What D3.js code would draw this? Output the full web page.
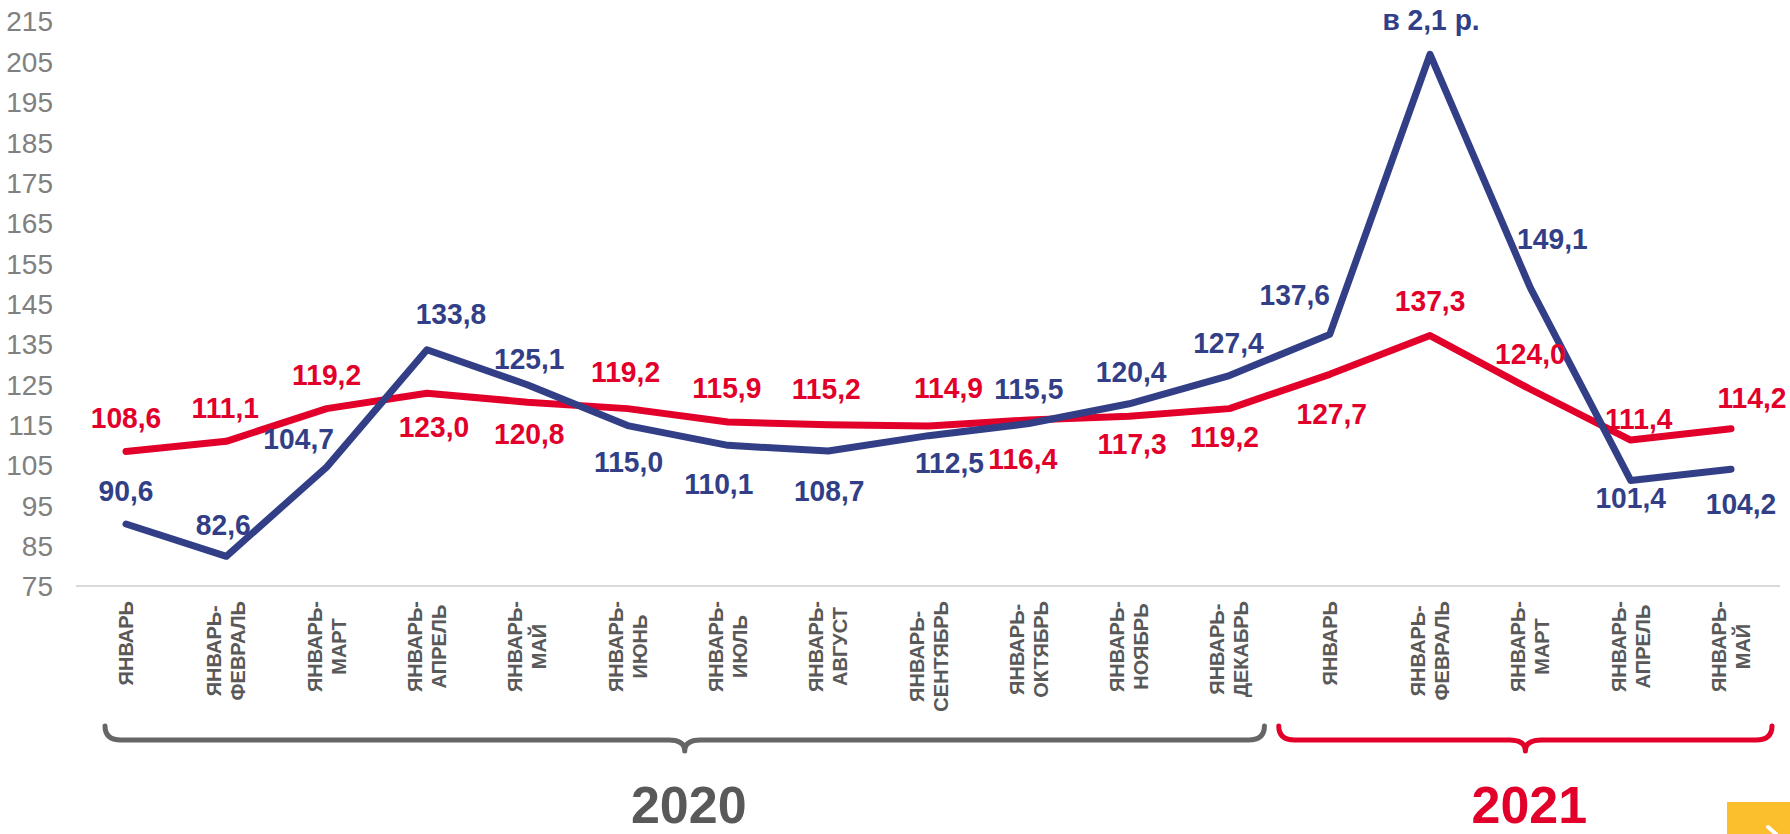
<!DOCTYPE html>
<html>
<head>
<meta charset="utf-8">
<script src="https://cdn.jsdelivr.net/npm/d3@7"></script>
<style>
  html, body { margin: 0; padding: 0; background: #fff; }
  svg { display: block; }
</style>
</head>
<body>
<svg id="chart" width="1790" height="834"></svg>
<script>
// ---------- DATA ----------
const categories = [
  "ЯНВАРЬ", "ЯНВАРЬ-ФЕВРАЛЬ", "ЯНВАРЬ-МАРТ", "ЯНВАРЬ-АПРЕЛЬ", "ЯНВАРЬ-МАЙ",
  "ЯНВАРЬ-ИЮНЬ", "ЯНВАРЬ-ИЮЛЬ", "ЯНВАРЬ-АВГУСТ", "ЯНВАРЬ-СЕНТЯБРЬ", "ЯНВАРЬ-ОКТЯБРЬ",
  "ЯНВАРЬ-НОЯБРЬ", "ЯНВАРЬ-ДЕКАБРЬ",
  "ЯНВАРЬ", "ЯНВАРЬ-ФЕВРАЛЬ", "ЯНВАРЬ-МАРТ", "ЯНВАРЬ-АПРЕЛЬ", "ЯНВАРЬ-МАЙ"
];
const blueValues = [90.6, 82.6, 104.7, 133.8, 125.1, 115.0, 110.1, 108.7, 112.5, 115.5, 120.4, 127.4, 137.6, 207.0, 149.1, 101.4, 104.2];
const blueLabels = ["90,6", "82,6", "104,7", "133,8", "125,1", "115,0", "110,1", "108,7", "112,5", "115,5", "120,4", "127,4", "137,6", "в 2,1 р.", "149,1", "101,4", "104,2"];
const redValues = [108.6, 111.1, 119.2, 123.0, 120.8, 119.2, 115.9, 115.2, 114.9, 116.4, 117.3, 119.2, 127.7, 137.3, 124.0, 111.4, 114.2];
const redLabels = ["108,6", "111,1", "119,2", "123,0", "120,8", "119,2", "115,9", "115,2", "114,9", "116,4", "117,3", "119,2", "127,7", "137,3", "124,0", "111,4", "114,2"];
const yTicks = [75, 85, 95, 105, 115, 125, 135, 145, 155, 165, 175, 185, 195, 205, 215];
const years = [
  { label: "2020", from: 0, to: 11 },
  { label: "2021", from: 12, to: 16 }
];

// ---------- LAYOUT (label offsets relative to points) ----------
const blueOffsets = [[0,-34],[-3,-32],[-28,-29],[24,-37],[2,-27],[1,36],[-9,38],[1,39],[21,27],[0,-35],[2,-33],[-1,-33],[-35,-40],[1,-35],[22,-50],[0,17],[10,34]];
const redOffsets  = [[0,-34],[-1,-34],[0,-34],[7,33],[2,31],[-2,-37],[-1,-35],[-2,-37],[20,-39],[-6,38],[3,27],[-5,28],[2,39],[0,-35],[0,-36],[8,-22],[21,-32]];

const BLUE = "#323F87";
const RED = "#E2002B";
const GRAY_TXT = "#595959";

const svg = d3.select("#chart");

const x = d3.scalePoint().domain(d3.range(categories.length)).range([126, 1731]);
const y = d3.scaleLinear().domain([75, 215]).range([587, 22]);

// y tick labels
const yAxis = d3.axisLeft(y).tickValues(yTicks).tickSize(0).tickPadding(0).tickFormat(d3.format("d"));
const gy = svg.append("g").attr("transform", "translate(53,0)").call(yAxis);
gy.select(".domain").remove();
gy.selectAll("text")
  .attr("fill", "#808080")
  .style("font-family", "'Liberation Sans Narrow', 'Arial Narrow', 'Liberation Sans', Arial, sans-serif")
  .style("font-size", "28px");

// x axis baseline
svg.append("line")
  .attr("x1", 76).attr("x2", 1780)
  .attr("y1", y(75) - 1).attr("y2", y(75) - 1)
  .attr("stroke", "#D9D9D9").attr("stroke-width", 2);

// category labels (rotated, centered lines, top aligned)
const catG = svg.append("g");
categories.forEach((c, i) => {
  const parts = c.includes("-") ? [c.slice(0, c.indexOf("-") + 1), c.slice(c.indexOf("-") + 1)] : [c];
  const g = catG.append("g").attr("transform", `translate(${x(i)},601) rotate(-90)`);
  const texts = parts.map((p, k) => g.append("text")
    .text(p)
    .attr("fill", GRAY_TXT)
    .style("font-family", "'Liberation Sans', Arial, sans-serif")
    .style("font-weight", "bold")
    .style("font-size", "20px")
    .attr("text-anchor", "middle")
    .attr("y", parts.length === 1 ? 7 : (k === 0 ? -5 : 19)));
  const maxLen = d3.max(texts, t => t.node().getComputedTextLength());
  texts.forEach(t => t.attr("x", -maxLen / 2));
});

// lines
const line = d3.line().x((d, i) => x(i)).y(d => y(d));
svg.append("path").datum(redValues)
  .attr("d", line).attr("fill", "none").attr("stroke", RED)
  .attr("stroke-width", 7).attr("stroke-linejoin", "round").attr("stroke-linecap", "round");
svg.append("path").datum(blueValues)
  .attr("d", line).attr("fill", "none").attr("stroke", BLUE)
  .attr("stroke-width", 7).attr("stroke-linejoin", "round").attr("stroke-linecap", "round");

// data labels
function addLabels(vals, labels, offs, color) {
  svg.append("g").selectAll("text").data(vals).join("text")
    .attr("transform", (d, i) => `translate(${x(i) + offs[i][0]},${y(d) + offs[i][1]}) scale(0.94,1)`)
    .attr("dy", "0.36em")
    .attr("text-anchor", "middle")
    .attr("fill", color)
    .style("font-family", "'Liberation Sans', Arial, sans-serif")
    .style("font-weight", "bold")
    .style("font-size", "30px")
    .text((d, i) => labels[i]);
}
addLabels(redValues, redLabels, redOffsets, RED);
addLabels(blueValues, blueLabels, blueOffsets, BLUE);

// braces
function brace(x1, x2, yTop, yLine, yTip, r) {
  const cx = (x1 + x2) / 2;
  return `M${x1},${yTop} Q${x1},${yLine} ${x1 + r},${yLine} L${cx - r},${yLine} Q${cx},${yLine} ${cx},${yTip} ` +
         `Q${cx},${yLine} ${cx + r},${yLine} L${x2 - r},${yLine} Q${x2},${yLine} ${x2},${yTop}`;
}
const braceSpecs = [
  { x1: x(years[0].from) - 21, x2: x(years[0].to) + 35, color: "#666666", textColor: "#595959" },
  { x1: x(years[1].from) - 51, x2: x(years[1].to) + 41, color: RED, textColor: RED }
];
braceSpecs.forEach((b, i) => {
  svg.append("path")
    .attr("d", brace(b.x1, b.x2, 726, 740, 751, 16))
    .attr("fill", "none").attr("stroke", b.color).attr("stroke-width", 5)
    .attr("stroke-linecap", "round").attr("stroke-linejoin", "round");
  svg.append("text")
    .attr("x", (b.x1 + b.x2) / 2 + 4)
    .attr("y", 804).attr("dy", "0.36em")
    .attr("text-anchor", "middle")
    .attr("fill", b.textColor)
    .style("font-family", "'Liberation Sans', Arial, sans-serif")
    .style("font-weight", "bold")
    .style("font-size", "52px")
    .text(years[i].label);
});

// yellow corner box
svg.append("rect").attr("x", 1727).attr("y", 802).attr("width", 63).attr("height", 32).attr("fill", "#FBBF2E");
svg.append("line").attr("x1", 1768).attr("y1", 827).attr("x2", 1776).attr("y2", 834)
  .attr("stroke", "#fff").attr("stroke-width", 4).attr("stroke-linecap", "round");
</script>
</body>
</html>
